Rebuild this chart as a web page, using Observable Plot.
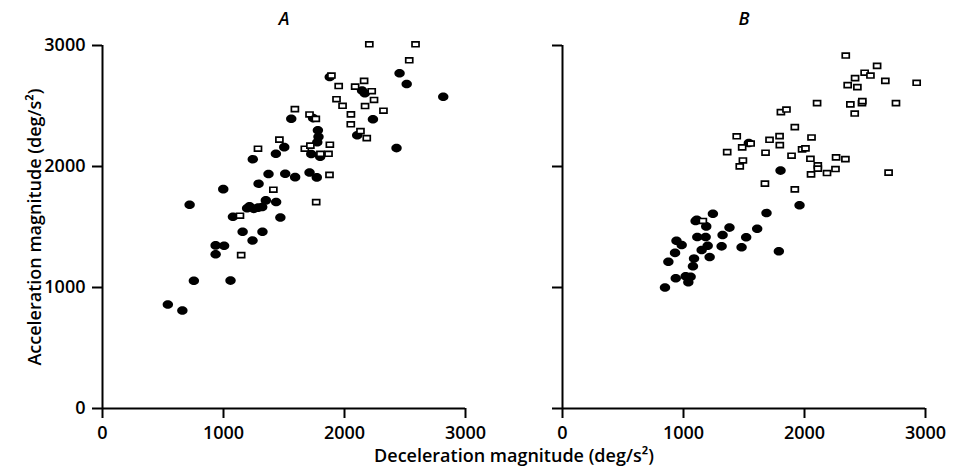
<!DOCTYPE html>
<html>
<head>
<meta charset="utf-8">
<script src="https://cdn.jsdelivr.net/npm/d3@7"></script>
<script src="https://cdn.jsdelivr.net/npm/@observablehq/plot@0.6"></script>
<style>
  html, body { margin: 0; padding: 0; background: #fff; }
  #chart { width: 955px; height: 471px; }
</style>
</head>
<body>
<div id="chart"></div>
<script>
// Panels and ticks
const panels = ["A", "B"];
const xTicks = [0, 1000, 2000, 3000];
const yTicks = [0, 1000, 2000, 3000];
const xTitle = "Deceleration magnitude (deg/s²)";
const yTitle = "Acceleration magnitude (deg/s²)";

// Panel A: filled symbols [deceleration, acceleration]
const aFilled = [
  [540, 860], [660, 810], [720, 1684], [755, 1055], [935, 1275], [935, 1348], [1005, 1345],
  [998, 1813], [1058, 1057], [1078, 1585], [1158, 1460], [1240, 1388], [1322, 1460],
  [1195, 1655], [1215, 1672], [1250, 1650], [1285, 1660], [1320, 1665], [1290, 1858],
  [1242, 2060], [1372, 1938], [1350, 1720], [1435, 1706], [1470, 1578], [1433, 2106],
  [1502, 2160], [1510, 1940], [1592, 1912], [1560, 2395], [1711, 1950], [1771, 1910],
  [1725, 2104], [1740, 2400], [1780, 2300], [1785, 2245], [1775, 2200], [1799, 2080],
  [1878, 2740], [2105, 2258], [2145, 2628], [2168, 2605], [2235, 2390], [2430, 2152],
  [2455, 2770], [2514, 2682], [2816, 2577]
];
// Panel A: open symbols
const aOpen = [
  [2205, 3010], [2587, 3010], [2535, 2878], [2162, 2708], [2088, 2660], [1952, 2665],
  [1892, 2752], [2225, 2622], [2244, 2550], [1934, 2556], [1984, 2502], [2170, 2500],
  [2322, 2461], [2053, 2431], [2052, 2349], [2132, 2292], [2184, 2235], [1590, 2474],
  [1711, 2430], [1763, 2394], [1462, 2222], [1285, 2147], [1672, 2147], [1718, 2173],
  [1879, 2180], [1868, 2105], [1801, 2104], [1876, 1931], [1412, 1808], [1766, 1706],
  [1136, 1593], [1146, 1268]
];
// Panel B: filled symbols
const bFilled = [
  [847, 1000], [875, 1212], [930, 1286], [942, 1386], [985, 1352], [936, 1076], [1018, 1092],
  [1040, 1043], [1059, 1088], [1078, 1175], [1087, 1240], [1100, 1549], [1110, 1560],
  [1114, 1417], [1183, 1417], [1150, 1310], [1188, 1505], [1216, 1252], [1200, 1345],
  [1243, 1610], [1323, 1434], [1315, 1340], [1380, 1495], [1480, 1332], [1518, 1415],
  [1609, 1485], [1686, 1615], [1788, 1299], [1802, 1966], [1959, 1679], [1540, 2195]
];
// Panel B: open symbols
const bOpen = [
  [2341, 2917], [2600, 2832], [2497, 2775], [2545, 2752], [2418, 2730], [2357, 2672],
  [2437, 2656], [2668, 2708], [2927, 2692], [2104, 2524], [2379, 2513], [2475, 2524],
  [2478, 2540], [2756, 2524], [2415, 2438], [1805, 2449], [1851, 2471], [1920, 2325],
  [2058, 2240], [1711, 2221], [1794, 2251], [1440, 2250], [1555, 2190], [1485, 2158],
  [1796, 2177], [1361, 2119], [1678, 2114], [1491, 2050], [1465, 2001], [1893, 2089],
  [1980, 2141], [2008, 2150], [2049, 2064], [2110, 2009], [2110, 1982], [2054, 1935],
  [2186, 1946], [2261, 2075], [2338, 2061], [2256, 1979], [2695, 1949], [1673, 1858],
  [1920, 1811], [1160, 1550]
];

const toRows = (arr, panel) => arr.map(([x, y]) => ({panel, x, y}));
const filled = [...toRows(aFilled, "A"), ...toRows(bFilled, "B")];
const open = [...toRows(aOpen, "A"), ...toRows(bOpen, "B")];

// Custom symbols: a slightly wide ellipse and a flat rectangle
const ellipse = {
  draw(ctx, size) {
    const r = Math.sqrt(size / Math.PI);
    const rx = r * 1.16, ry = r * 0.95, k = 0.5523;
    ctx.moveTo(rx, 0);
    ctx.bezierCurveTo(rx, ry * k, rx * k, ry, 0, ry);
    ctx.bezierCurveTo(-rx * k, ry, -rx, ry * k, -rx, 0);
    ctx.bezierCurveTo(-rx, -ry * k, -rx * k, -ry, 0, -ry);
    ctx.bezierCurveTo(rx * k, -ry, rx, -ry * k, rx, 0);
    ctx.closePath();
  }
};
const rect = {
  draw(ctx, size) {
    const r = Math.sqrt(size / Math.PI);
    const hw = r * 0.78, hh = r * 0.55;
    ctx.rect(-hw, -hh, 2 * hw, 2 * hh);
  }
};

const fmt = d => String(d);

const chart = Plot.plot({
  width: 955,
  height: 471,
  marginLeft: 102,
  marginRight: 29,
  marginTop: 45,
  marginBottom: 63,
  style: {fontFamily: "'Open Sans', sans-serif", fontSize: "17px", color: "#000", background: "#fff"},
  fx: {domain: panels, paddingInner: 97 / 461, paddingOuter: 0, axis: null, label: null},
  x: {domain: [0, 3000], label: null},
  y: {domain: [0, 3000], label: null},
  marks: [
    Plot.ruleY([0], {stroke: "#000", strokeWidth: 2}),
    Plot.ruleX([0], {stroke: "#000", strokeWidth: 2}),
    Plot.axisX({ticks: xTicks, tickFormat: fmt, tickSize: 10, tickPadding: 8, strokeWidth: 2,
      fontWeight: 600, fontSize: 18,
      label: xTitle, labelAnchor: "center", labelOffset: 53, labelArrow: "none"}),
    Plot.axisY({ticks: yTicks, tickFormat: fmt, tickSize: 10, tickPadding: 7, strokeWidth: 2,
      fontWeight: 600, fontSize: 18,
      label: yTitle, labelAnchor: "center", labelOffset: 74, labelArrow: "none"}),
    Plot.axisY({facetAnchor: "right", ticks: yTicks, tickSize: 10, strokeWidth: 2,
      tickFormat: () => "", label: null}),
    Plot.text(panels, {fx: d => d, text: d => d, frameAnchor: "top", dy: -33,
      fontStyle: "italic", fontWeight: 600, fontSize: 18}),
    Plot.dot(filled, {fx: "panel", x: "x", y: "y", symbol: ellipse, r: 4.5, fill: "#000", stroke: null}),
    Plot.dot(open, {fx: "panel", x: "x", y: "y", symbol: rect, r: 4.5, fill: "#fff", stroke: "#000", strokeWidth: 1.7})
  ]
});
document.getElementById("chart").appendChild(chart);
</script>
</body>
</html>
